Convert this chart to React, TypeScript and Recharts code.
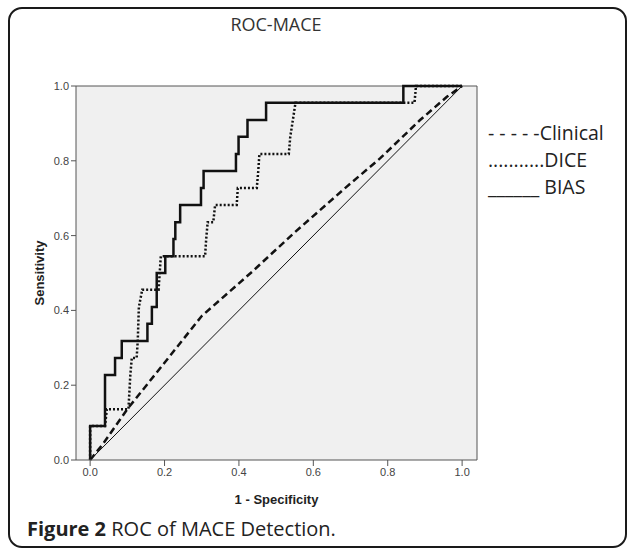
import React from 'react';
import { LineChart, Line, XAxis, YAxis, CartesianGrid, ReferenceLine, Label } from 'recharts';

// axis ticks (both axes)
const axisTicks = [0, 0.2, 0.4, 0.6, 0.8, 1.0];

// BIAS ROC curve (1 - specificity, sensitivity)
const biasFpr = [0, 0, 0.04, 0.04, 0.067, 0.067, 0.085, 0.085, 0.154, 0.154, 0.166, 0.166, 0.179, 0.179,
  0.202, 0.202, 0.224, 0.224, 0.229, 0.229, 0.242, 0.242, 0.298, 0.298, 0.305, 0.305, 0.392, 0.392,
  0.399, 0.399, 0.423, 0.423, 0.473, 0.473, 0.842, 0.842, 1];
const biasTpr = [0, 0.091, 0.091, 0.227, 0.227, 0.273, 0.273, 0.318, 0.318, 0.364, 0.364, 0.409, 0.409, 0.5,
  0.5, 0.545, 0.545, 0.591, 0.591, 0.636, 0.636, 0.682, 0.682, 0.727, 0.727, 0.773, 0.773, 0.818,
  0.818, 0.864, 0.864, 0.909, 0.909, 0.955, 0.955, 1, 1];

// DICE ROC curve
const diceFpr = [0, 0, 0.04, 0.045, 0.103, 0.108, 0.112, 0.125, 0.128, 0.131, 0.14, 0.184, 0.187, 0.19,
  0.309, 0.312, 0.316, 0.331, 0.336, 0.394, 0.397, 0.448, 0.452, 0.455, 0.534, 0.538, 0.545, 0.552,
  0.872, 0.876, 1];
const diceTpr = [0, 0.091, 0.091, 0.136, 0.136, 0.227, 0.273, 0.273, 0.318, 0.409, 0.455, 0.455, 0.5, 0.545,
  0.545, 0.591, 0.636, 0.636, 0.682, 0.682, 0.727, 0.727, 0.773, 0.818, 0.818, 0.864, 0.909, 0.955,
  0.955, 1, 1];

// Clinical ROC curve
const clinicalFpr = [0, 0.036, 0.1, 0.2, 0.3, 0.435, 0.547, 0.69, 0.78, 0.887, 0.959, 1];
const clinicalTpr = [0, 0.045, 0.136, 0.26, 0.385, 0.503, 0.606, 0.731, 0.807, 0.909, 0.971, 1];

// reference line
const refFpr = [0, 1];
const refTpr = [0, 1];

const zip = (xs: number[], ys: number[]) => xs.map((x, i) => ({ x, y: ys[i] }));

const bias = zip(biasFpr, biasTpr);
const dice = zip(diceFpr, diceTpr);
const clinical = zip(clinicalFpr, clinicalTpr);
const reference = zip(refFpr, refTpr);

const tickStyle = { fontSize: 11, fill: '#444', fontFamily: 'Liberation Sans, Arial, sans-serif' };
const labelStyle = { fontSize: 13, fontWeight: 'bold' as const, fill: '#222', fontFamily: 'Liberation Sans, Arial, sans-serif' };
const textFont = '"Open Sans", sans-serif';

const legendRows = ['- - - - -Clinical', '...........DICE', '______ BIAS'];

export default function App() {
  return (
    <div style={{ position: 'absolute', left: 0, top: 0, width: 629, height: 549, background: '#fff', overflow: 'hidden' }}>
      <div style={{
        position: 'absolute', left: 8, top: 7, width: 619, height: 541, boxSizing: 'border-box',
        border: '2px solid #1a1a1a', borderRadius: 14,
      }} />
      <div style={{
        position: 'absolute', left: 176, width: 200, top: 12, textAlign: 'center',
        fontFamily: textFont, fontSize: 18, color: '#333',
      }}>ROC-MACE</div>

      <div style={{ position: 'absolute', left: 0, top: 0 }}>
        <LineChart width={629} height={549} margin={{ top: 86, right: 152, bottom: 39, left: 36 }}>
          <CartesianGrid fill="#f0f0f0" horizontal={false} vertical={false} />
          <XAxis
            dataKey="x"
            type="number"
            domain={[-0.038, 1.04]}
            ticks={axisTicks}
            tickFormatter={(v: number) => v.toFixed(1)}
            allowDataOverflow
            height={50}
            tick={tickStyle}
            tickSize={6}
            tickMargin={2}
            axisLine={{ stroke: '#555' }}
            tickLine={{ stroke: '#555' }}
          >
            <Label value="1 - Specificity" position="insideBottom" offset={6} style={labelStyle} />
          </XAxis>
          <YAxis
            dataKey="y"
            type="number"
            domain={[0, 1]}
            ticks={axisTicks}
            tickFormatter={(v: number) => v.toFixed(1)}
            width={40}
            tick={tickStyle}
            tickSize={5}
            tickMargin={2}
            axisLine={{ stroke: '#555' }}
            tickLine={{ stroke: '#555' }}
          >
            <Label value="Sensitivity" angle={-90} position="insideLeft" offset={3} style={{ ...labelStyle, textAnchor: 'middle' }} />
          </YAxis>
          <ReferenceLine y={1} stroke="#555" />
          <ReferenceLine x={1.04} stroke="#555" />
          <Line data={reference} dataKey="y" type="linear" stroke="#111" strokeWidth={1} dot={false} isAnimationActive={false} />
          <Line data={clinical} dataKey="y" type="linear" stroke="#111" strokeWidth={2.5} strokeDasharray="7 4" dot={false} isAnimationActive={false} />
          <Line data={dice} dataKey="y" type="linear" stroke="#111" strokeWidth={2.5} strokeDasharray="2 2" dot={false} isAnimationActive={false} />
          <Line data={bias} dataKey="y" type="linear" stroke="#111" strokeWidth={2.5} dot={false} isAnimationActive={false} />
        </LineChart>
      </div>

      {legendRows.map((row, i) => (
        <div key={row} style={{
          position: 'absolute', left: 488, top: 120 + i * 27, whiteSpace: 'pre',
          fontFamily: textFont, fontSize: 19.5, color: '#222', lineHeight: '26px',
        }}>{row}</div>
      ))}

      <div style={{
        position: 'absolute', left: 27, top: 515, fontFamily: textFont, fontSize: 20, color: '#222', whiteSpace: 'pre',
        lineHeight: '28px',
      }}>
        <b>Figure 2</b> ROC of MACE Detection.
      </div>
    </div>
  );
}
